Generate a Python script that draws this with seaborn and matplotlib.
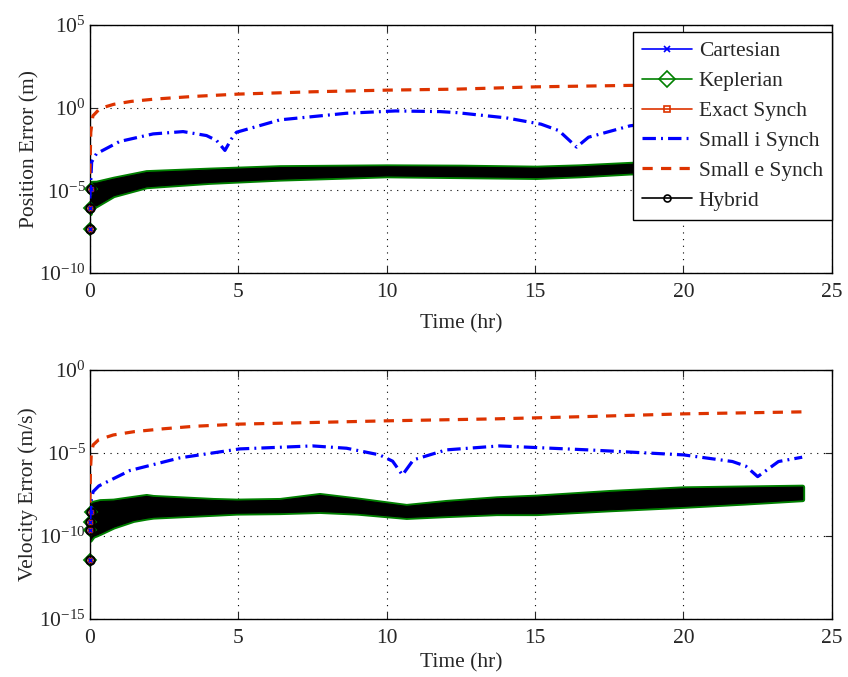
import numpy as np
import pandas as pd
import matplotlib
matplotlib.use("Agg")
import matplotlib.pyplot as plt
import seaborn as sns
from matplotlib.lines import Line2D
from matplotlib.ticker import NullLocator

# --- style: MATLAB-like look, Times-like serif ---
sns.set_style("ticks")
plt.rcParams['font.family'] = ['Liberation Serif', 'DejaVu Serif']
plt.rcParams['mathtext.fontset'] = 'custom'
plt.rcParams['mathtext.rm'] = 'Liberation Serif'
plt.rcParams['font.size'] = 15.5

BLUE = '#0000ff'
GREEN = '#008000'
RED = '#dd3300'
BLACK = '#000000'
FS = 15.5

# =============================================================================
# Data (values are log10 of the error)
# =============================================================================
# --- Position error panel ---
pos_e_t = [0, 0.03, 0.1, 0.34, 0.8, 1.4, 2.2, 3.5, 5.0, 7.5, 10, 12.35, 15.04, 17.95, 21, 24]
pos_e_log = [-4.0, -1.5, -0.5, -0.05, 0.2, 0.38, 0.52, 0.68, 0.82, 0.96, 1.06, 1.12, 1.26, 1.34, 1.42, 1.5]

pos_i_t = [0.0, 0.06, 0.22, 1.0, 2.13, 3.14, 3.93, 4.27, 4.55, 4.77, 4.94, 6.4, 8.64, 10.3,
           11.8, 12.35, 14.03, 15.2, 15.8, 16.4, 16.8, 18.2, 20, 22, 24]
pos_i_log = [-5.5, -3.29, -2.79, -2.05, -1.59, -1.45, -1.69, -1.99, -2.59, -1.89, -1.49, -0.74, -0.34, -0.2,
             -0.24, -0.3, -0.62, -1.0, -1.39, -2.39, -1.79, -1.1, -0.7, -0.45, -0.35]

# envelope of the fast-oscillating Cartesian / Keplerian / Exact Synch / Hybrid errors
pos_band_t = [0, 0.05, 0.22, 0.79, 1.9, 4, 6.4, 10, 12.5, 15.04, 16.5, 18.2, 21, 24]
pos_band_hi = [-4.6, -4.55, -4.54, -4.3, -3.9, -3.75, -3.6, -3.55, -3.57, -3.63, -3.55, -3.4, -3.25, -3.1]
pos_band_lo = [-6.4, -6.0, -5.9, -5.3, -4.76, -4.5, -4.3, -4.1, -4.15, -4.2, -4.1, -3.93, -3.8, -3.7]
pos_start_t = [0.0, 0.01, 0.03]
pos_start_log = [-7.35, -6.1, -4.9]

# --- Velocity error panel ---
vel_e_t = [0, 0.02, 0.05, 0.11, 0.3, 0.79, 1.5, 2.47, 3.5, 4.98, 7.5, 10, 13.7, 17, 20, 24]
vel_e_log = [-8.0, -6.0, -5.0, -4.52, -4.2, -3.92, -3.72, -3.55, -3.4, -3.27, -3.17, -3.07, -2.95, -2.8, -2.65, -2.53]

vel_i_t = [0, 0.05, 0.11, 0.3, 1.35, 3.03, 5.05, 7.5, 8.65, 9.76, 10.2, 10.53, 10.9, 12.0,
           13.8, 16.8, 20.0, 21.65, 22.1, 22.5, 23.2, 24]
vel_i_log = [-9.0, -7.8, -7.33, -6.99, -6.06, -5.3, -4.76, -4.58, -4.72, -5.12, -5.5, -6.33, -5.42, -4.82,
             -4.58, -4.82, -5.12, -5.52, -5.8, -6.43, -5.52, -5.26]

vel_band_t = [0, 0.1, 0.34, 0.79, 1.46, 1.9, 2.13, 4.15, 4.94, 6.4, 7.74, 9, 10.66, 12, 13.7, 15.04,
              17.5, 20, 22, 24]
vel_band_hi = [-8.13, -8.0, -7.9, -7.87, -7.7, -7.59, -7.65, -7.83, -7.87, -7.83, -7.53, -7.8, -8.19, -7.95,
               -7.73, -7.63, -7.35, -7.13, -7.08, -7.03]
vel_band_lo = [-10.24, -10.0, -9.82, -9.44, -9.04, -8.9, -8.84, -8.67, -8.6, -8.57, -8.5, -8.6, -8.86, -8.75,
               -8.63, -8.63, -8.4, -8.19, -8.0, -7.79]
vel_start_t = [0.0, 0.01, 0.02, 0.03]
vel_start_log = [-11.45, -9.64, -9.14, -8.53]

labels = ['Cartesian', 'Keplerian', 'Exact Synch', 'Small i Synch', 'Small e Synch', 'Hybrid']

DASHDOT = (0, (4.2, 1.6, 0.6, 1.6))
DASHED = (0, (3.2, 2.6))


def draw_panel(ax, e_t, e_log, i_t, i_log, b_t, b_hi, b_lo, s_t, s_log):
    b_t = np.array(b_t)
    hi = 10 ** np.array(b_hi)
    lo = 10 ** np.array(b_lo)
    # oscillating methods: Cartesian, Exact Synch, Keplerian (green rim), Hybrid on top
    ax.fill_between(b_t, lo, hi, color=BLUE, lw=0, zorder=2)
    ax.fill_between(b_t, lo, hi, color=RED, lw=0, zorder=2.1)
    ax.fill_between(b_t, lo, hi, facecolor=GREEN, edgecolor=GREEN, lw=3.5, zorder=2.2)
    ax.fill_between(b_t, lo, hi, facecolor=BLACK, edgecolor=BLACK, lw=0.8, zorder=2.3)

    s_y = 10 ** np.array(s_log)
    ax.plot(s_t, s_y, ls='none', marker='D', ms=6, mfc='none', mec=GREEN, mew=1.3, zorder=2.4, clip_on=False)
    ax.plot(s_t, s_y, ls='none', marker='o', ms=6, mfc='none', mec=BLACK, mew=1.6, zorder=2.5, clip_on=False)
    ax.plot(s_t, s_y, ls='none', marker='s', ms=3, mfc='none', mec=RED, mew=1, zorder=2.6, clip_on=False)
    ax.plot(s_t, s_y, ls='none', marker='x', ms=3, mec=BLUE, mew=1, zorder=2.7, clip_on=False)

    df_i = pd.DataFrame({'t': i_t, 'err': 10 ** np.array(i_log)})
    sns.lineplot(data=df_i, x='t', y='err', ax=ax, color=BLUE, lw=2.3, estimator=None,
                 errorbar=None, linestyle=DASHDOT, zorder=3)
    df_e = pd.DataFrame({'t': e_t, 'err': 10 ** np.array(e_log)})
    sns.lineplot(data=df_e, x='t', y='err', ax=ax, color=RED, lw=2.3, estimator=None,
                 errorbar=None, linestyle=DASHED, zorder=3.1)

    ax.set_yscale('log')
    ax.set_xlim(0, 25)
    ax.set_xticks([0, 5, 10, 15, 20, 25])
    ax.yaxis.set_minor_locator(NullLocator())
    ax.xaxis.set_minor_locator(NullLocator())
    ax.grid(True, which='major', color='black', linestyle=(0, (1, 5)), lw=0.8)
    ax.tick_params(direction='in', top=True, right=True, length=5, width=0.8,
                   labelsize=FS)
    ax.tick_params(axis='x', pad=7)
    ax.tick_params(axis='y', pad=3)
    for sp in ax.spines.values():
        sp.set_linewidth(1.0)
        sp.set_color('black')


fig = plt.figure(figsize=(8.48, 6.77), dpi=100)
ax1 = fig.add_axes([0.106, 0.597, 0.875, 0.366])
ax2 = fig.add_axes([0.106, 0.0857, 0.875, 0.368])

draw_panel(ax1, pos_e_t, pos_e_log, pos_i_t, pos_i_log,
           pos_band_t, pos_band_hi, pos_band_lo, pos_start_t, pos_start_log)
ax1.set_ylim(1e-10, 1e5)
ax1.set_yticks([1e-10, 1e-5, 1e0, 1e5])
ax1.set_ylabel('Position Error (m)', fontsize=FS, labelpad=0)
ax1.set_xlabel('Time (hr)', fontsize=FS, labelpad=9)

draw_panel(ax2, vel_e_t, vel_e_log, vel_i_t, vel_i_log,
           vel_band_t, vel_band_hi, vel_band_lo, vel_start_t, vel_start_log)
ax2.set_ylim(1e-15, 1e0)
ax2.set_yticks([1e-15, 1e-10, 1e-5, 1e0])
ax2.set_ylabel('Velocity Error (m/s)', fontsize=FS, labelpad=1)
ax2.set_xlabel('Time (hr)', fontsize=FS, labelpad=4)

# legend (top panel)
handles = [
    Line2D([], [], color=BLUE, lw=1.2, marker='x', ms=5, mew=1.2),
    Line2D([], [], color=GREEN, lw=1.2, marker='D', ms=8, mfc='none', mew=1.2),
    Line2D([], [], color=RED, lw=1.2, marker='s', ms=4, mfc='none', mew=1.2),
    Line2D([], [], color=BLUE, lw=2.3, linestyle=DASHDOT),
    Line2D([], [], color=RED, lw=2.3, linestyle=DASHED),
    Line2D([], [], color=BLACK, lw=1.2, marker='o', ms=5, mfc='none', mew=1.2),
]
leg = ax1.legend(handles, labels, loc='upper right', bbox_to_anchor=(1.0, 0.972),
                 borderaxespad=0, fancybox=False, framealpha=1, edgecolor='black',
                 fontsize=FS, handlelength=2.35, handletextpad=0.3, labelspacing=0.46,
                 borderpad=0.42)
leg.get_frame().set_linewidth(1.0)
leg.set_zorder(10)

fig.savefig('out.png', dpi=100)
